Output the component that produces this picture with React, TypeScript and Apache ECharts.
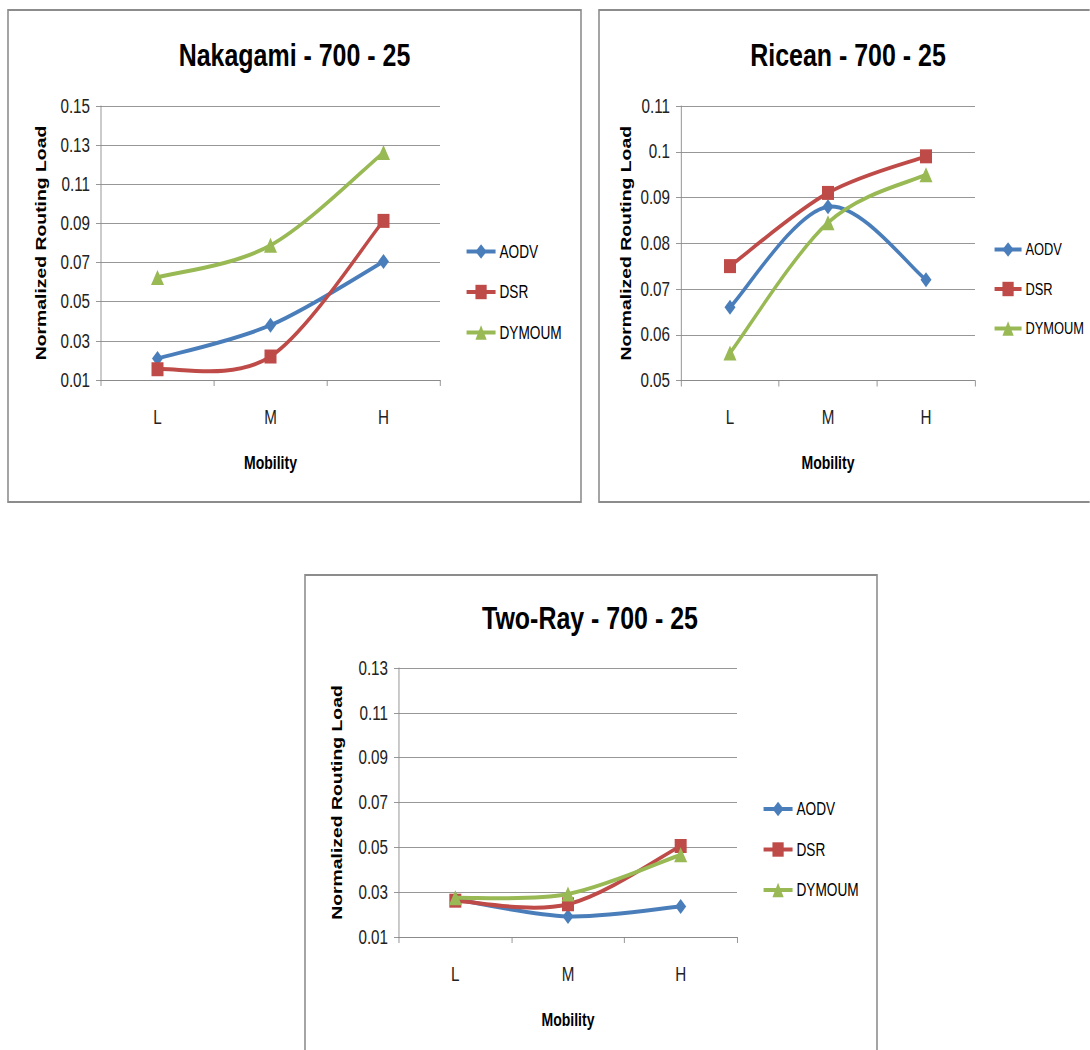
import React, { useEffect, useRef } from "react";
import * as echarts from "echarts";

// ---- data ----
const categories = ["L", "M", "H"];
const seriesNames = ["AODV", "DSR", "DYMOUM"];

const nakagamiAODV = [0.021, 0.038, 0.0705];
const nakagamiDSR = [0.0155, 0.022, 0.0913];
const nakagamiDYMOUM = [0.0624, 0.0788, 0.1262];

const riceanAODV = [0.066, 0.088, 0.072];
const riceanDSR = [0.075, 0.091, 0.099];
const riceanDYMOUM = [0.056, 0.0845, 0.095];

const twoRayAODV = [0.0268, 0.0192, 0.0236];
const twoRayDSR = [0.0262, 0.0246, 0.0506];
const twoRayDYMOUM = [0.0275, 0.0292, 0.0467];

const nakagamiTicks = [0.01, 0.03, 0.05, 0.07, 0.09, 0.11, 0.13, 0.15];
const riceanTicks = [0.05, 0.06, 0.07, 0.08, 0.09, 0.1, 0.11];
const twoRayTicks = [0.01, 0.03, 0.05, 0.07, 0.09, 0.11, 0.13];

const titles = ["Nakagami - 700 - 25", "Ricean - 700 - 25", "Two-Ray - 700 - 25"];
const xAxisTitle = "Mobility";
const yAxisTitle = "Normalized Routing Load";

// ---- styling / layout (screen pixels; x is divided by K because the
// reference picture is horizontally compressed) ----
const K = 0.78;
const sx = (x: number) => x / K;
const colors = ["#4A7EBB", "#BE4B48", "#98B954"];
const symbols = ["diamond", "rect", "triangle"];
const symbolSizes = [[11, 15], [12, 14], [13, 15]];
const FONT = '"Liberation Sans", Arial, sans-serif';
const GRID_COLOR = "#8a8a8a";
const LINE_W = 4;
const TICK_SIZE = 19.5;

const panels = [
  {
    title: titles[0],
    values: [nakagamiAODV, nakagamiDSR, nakagamiDYMOUM],
    ticks: nakagamiTicks,
    grid: { left: 101, top: 106, width: 339, height: 274 },
    titlePos: { x: 294.5, y: 39 },
    legendPos: { left: 465, top: 242.5, itemWidth: 29, fontSize: 17.5 },
    yTitleX: 41,
    border: { x: 8, y: 10, width: 573, height: 492 },
  },
  {
    title: titles[1],
    values: [riceanAODV, riceanDSR, riceanDYMOUM],
    ticks: riceanTicks,
    grid: { left: 681, top: 106, width: 294, height: 274.5 },
    titlePos: { x: 848, y: 39 },
    legendPos: { left: 993, top: 241, itemWidth: 27, fontSize: 16.5 },
    yTitleX: 626,
    border: { x: 599, y: 10, width: 510, height: 492 },
  },
  {
    title: titles[2],
    values: [twoRayAODV, twoRayDSR, twoRayDYMOUM],
    ticks: twoRayTicks,
    grid: { left: 399, top: 668, width: 338, height: 269 },
    titlePos: { x: 590, y: 602 },
    legendPos: { left: 762, top: 800, itemWidth: 29, fontSize: 17.5 },
    yTitleX: 337,
    border: { x: 305, y: 575, width: 572, height: 500 },
  },
];

const Y_TITLE_SIZE = 19.4;

function fmt(v: number) {
  return String(parseFloat(Number(v).toFixed(4)));
}

function smoothCurve(vals: number[], color: string) {
  return (params: any, api: any) => {
    if (params.dataIndex !== 0) return null;
    const pts = vals.map((v, idx) => api.coord([idx, v]));
    let d = `M${pts[0][0]},${pts[0][1]}`;
    for (let j = 0; j < pts.length - 1; j++) {
      const p0 = pts[Math.max(j - 1, 0)];
      const p1 = pts[j];
      const p2 = pts[j + 1];
      const p3 = pts[Math.min(j + 2, pts.length - 1)];
      const c1 = [p1[0] + (p2[0] - p0[0]) / 6, p1[1] + (p2[1] - p0[1]) / 6];
      const c2 = [p2[0] - (p3[0] - p1[0]) / 6, p2[1] - (p3[1] - p1[1]) / 6];
      d += ` C${c1[0]},${c1[1]} ${c2[0]},${c2[1]} ${p2[0]},${p2[1]}`;
    }
    return {
      type: "path",
      shape: { pathData: d },
      style: { fill: "none", stroke: color, lineWidth: LINE_W, lineJoin: "round", lineCap: "round" },
    };
  };
}

function buildOption() {
  const title: any[] = [];
  const grid: any[] = [];
  const xAxis: any[] = [];
  const yAxis: any[] = [];
  const legend: any[] = [];
  const series: any[] = [];
  const graphic: any[] = [];

  panels.forEach((p, i) => {
    graphic.push({
      type: "rect",
      silent: true,
      z: -10,
      shape: { x: sx(p.border.x), y: p.border.y, width: sx(p.border.width), height: p.border.height },
      style: { fill: "#ffffff", stroke: "#8c8c8c", lineWidth: 2 },
    });
    title.push({
      text: p.title,
      left: sx(p.titlePos.x),
      top: p.titlePos.y,
      textAlign: "center",
      padding: 0,
      textStyle: { fontFamily: FONT, fontWeight: "bold", fontSize: 32, color: "#000" },
    });
    grid.push({
      left: sx(p.grid.left),
      top: p.grid.top,
      width: sx(p.grid.width),
      height: p.grid.height,
      containLabel: false,
    });
    xAxis.push({
      type: "category",
      gridIndex: i,
      data: categories,
      boundaryGap: true,
      name: xAxisTitle,
      nameLocation: "middle",
      nameGap: 73,
      nameTextStyle: { fontFamily: FONT, fontWeight: "bold", fontSize: 18, color: "#000" },
      axisLine: { lineStyle: { color: GRID_COLOR, width: 1 } },
      axisTick: { show: true, length: 6, alignWithLabel: false, lineStyle: { color: GRID_COLOR } },
      axisLabel: { fontFamily: FONT, fontSize: TICK_SIZE, color: "#222", margin: 27 },
      splitLine: { show: false },
    });
    const t = p.ticks;
    const axisX = sx(p.grid.left);
    const titleCenter = sx(p.yTitleX);
    yAxis.push({
      type: "value",
      gridIndex: i,
      min: t[0],
      max: t[t.length - 1],
      interval: Math.round((t[1] - t[0]) * 1000) / 1000,
      name: yAxisTitle,
      nameLocation: "middle",
      nameGap: axisX - titleCenter - Y_TITLE_SIZE / 2,
      nameTextStyle: { fontFamily: FONT, fontWeight: "bold", fontSize: Y_TITLE_SIZE, color: "#000" },
      axisLine: { show: true, lineStyle: { color: GRID_COLOR, width: 1 } },
      axisTick: { show: true, length: sx(5), lineStyle: { color: GRID_COLOR } },
      axisLabel: { fontFamily: FONT, fontSize: TICK_SIZE, color: "#222", margin: sx(11), formatter: fmt },
      splitLine: { show: true, lineStyle: { color: GRID_COLOR, width: 1 } },
    });
    legend.push({
      orient: "vertical",
      left: sx(p.legendPos.left),
      top: p.legendPos.top,
      itemWidth: sx(p.legendPos.itemWidth),
      itemHeight: 18,
      itemGap: 22.5,
      padding: 0,
      data: seriesNames,
      lineStyle: { opacity: 1, width: LINE_W },
      textStyle: { fontFamily: FONT, fontSize: p.legendPos.fontSize, color: "#000" },
    });
    p.values.forEach((vals, s) => {
      series.push({
        type: "custom",
        coordinateSystem: "cartesian2d",
        xAxisIndex: i,
        yAxisIndex: i,
        silent: true,
        data: vals.map((v, idx) => [idx, v]),
        renderItem: smoothCurve(vals, colors[s]),
        z: 2 + 2 * s,
      });
      series.push({
        type: "line",
        name: seriesNames[s],
        xAxisIndex: i,
        yAxisIndex: i,
        data: vals,
        symbol: symbols[s],
        symbolSize: [sx(symbolSizes[s][0]), symbolSizes[s][1]],
        showSymbol: true,
        lineStyle: { color: colors[s], width: LINE_W, opacity: 0 },
        itemStyle: { color: colors[s] },
        z: 3 + 2 * s,
      });
    });
  });

  return {
    animation: false,
    backgroundColor: "#ffffff",
    color: colors,
    title,
    grid,
    xAxis,
    yAxis,
    legend,
    series,
    graphic,
  };
}

export default function App() {
  const ref = useRef<HTMLDivElement>(null);
  useEffect(() => {
    if (!ref.current) return;
    const chart = echarts.init(ref.current, undefined, { renderer: "svg" });
    chart.setOption(buildOption() as any);
    return () => chart.dispose();
  }, []);
  return (
    <div
      style={{
        position: "absolute",
        left: 0,
        top: 0,
        width: 1090,
        height: 1050,
        overflow: "hidden",
        background: "#fff",
      }}
    >
      <div
        ref={ref}
        style={{
          width: 1090 / K,
          height: 1050,
          transform: `scaleX(${K})`,
          transformOrigin: "0 0",
        }}
      />
    </div>
  );
}
